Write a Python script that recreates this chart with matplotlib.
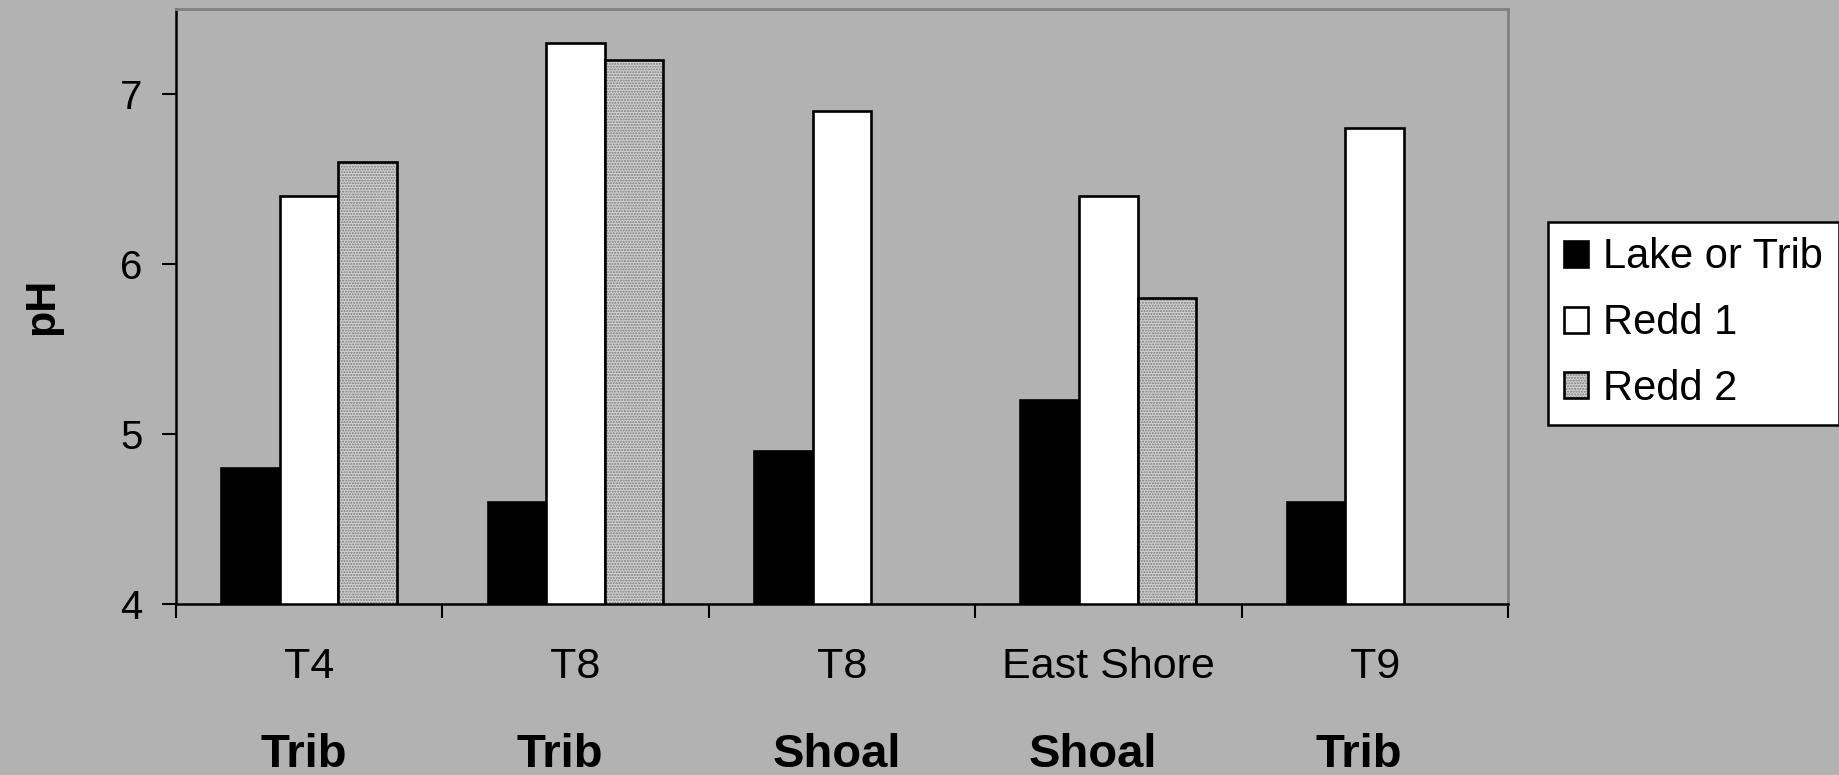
import matplotlib.pyplot as plt
import numpy as np
from matplotlib.patches import Patch

plt.rcParams['font.family'] = ['Liberation Sans', 'DejaVu Sans']
plt.rcParams['hatch.linewidth'] = 1.0

# Data
sites = ["T4", "T8", "T8", "East Shore", "T9"]
site_types = ["Trib", "Trib", "Shoal", "Shoal", "Trib"]
type_offsets = [-0.02, -0.06, -0.02, -0.06, -0.06]
lake_or_trib = [4.8, 4.6, 4.9, 5.2, 4.6]
redd1 = [6.4, 7.3, 6.9, 6.4, 6.8]
redd2 = [6.6, 7.2, np.nan, 5.8, np.nan]

BG = '#b2b2b2'
fig = plt.figure(figsize=(18.39, 7.75), dpi=100, facecolor=BG)
ax = fig.add_axes([0.0957, 0.2206, 0.7243, 0.7678], facecolor=BG)

x = np.arange(len(sites))
w = 0.22
LW = 1.9
ax.bar(x - w, lake_or_trib, w, color='black', edgecolor='black', linewidth=LW)
ax.bar(x, redd1, w, color='white', edgecolor='black', linewidth=LW)
ax.bar(x + w, redd2, w, color='#d2d2d2', edgecolor='#7a7a7a', hatch='......', linewidth=0)
ax.bar(x + w, redd2, w, fill=False, edgecolor='black', linewidth=LW)

ax.set_ylim(4, 7.5)
ax.set_xlim(-0.5, len(sites) - 0.5)
ax.set_yticks([4, 5, 6, 7])
ax.tick_params(axis='y', labelsize=29, length=10, width=1.5, direction='out', pad=14)

# category boundaries as ticks, labels on minor ticks
ax.set_xticks(np.arange(len(sites) + 1) - 0.5)
ax.set_xticklabels([])
ax.set_xticks(x, minor=True)
ax.set_xticklabels(sites, minor=True)
ax.tick_params(axis='x', which='major', length=10, width=1.5, direction='out')
ax.tick_params(axis='x', which='minor', length=0, labelsize=31, pad=31)

for xi, lab, off in zip(x, site_types, type_offsets):
    ax.text(xi + off, -0.274, lab, transform=ax.get_xaxis_transform(),
            ha='center', va='baseline', fontsize=34, fontweight='bold')

for s in ['left', 'bottom']:
    ax.spines[s].set_color('black')
    ax.spines[s].set_linewidth(1.8)
for s in ['top', 'right']:
    ax.spines[s].set_color('#808080')
    ax.spines[s].set_linewidth(2.0)

ax.set_ylabel("pH", fontsize=31, fontweight='bold', labelpad=42)

h_lake = Patch(facecolor='black', edgecolor='black', linewidth=LW)
h_r1 = Patch(facecolor='white', edgecolor='black', linewidth=LW)
h_r2a = Patch(facecolor='#d2d2d2', edgecolor='#7a7a7a', hatch='......', linewidth=0)
h_r2b = Patch(fill=False, edgecolor='black', linewidth=LW)
leg = fig.legend([h_lake, h_r1, (h_r2a, h_r2b)], ["Lake or Trib", "Redd 1", "Redd 2"],
                 loc='upper left', bbox_to_anchor=(0.842, 0.714), fontsize=30,
                 handlelength=0.58, handleheight=0.58, handletextpad=0.35,
                 labelspacing=0.62, borderpad=0.38, borderaxespad=0,
                 frameon=True, fancybox=False, framealpha=1, edgecolor='black')
leg.get_frame().set_linewidth(1.8)

fig.savefig("out.png", dpi=100, facecolor=BG)
